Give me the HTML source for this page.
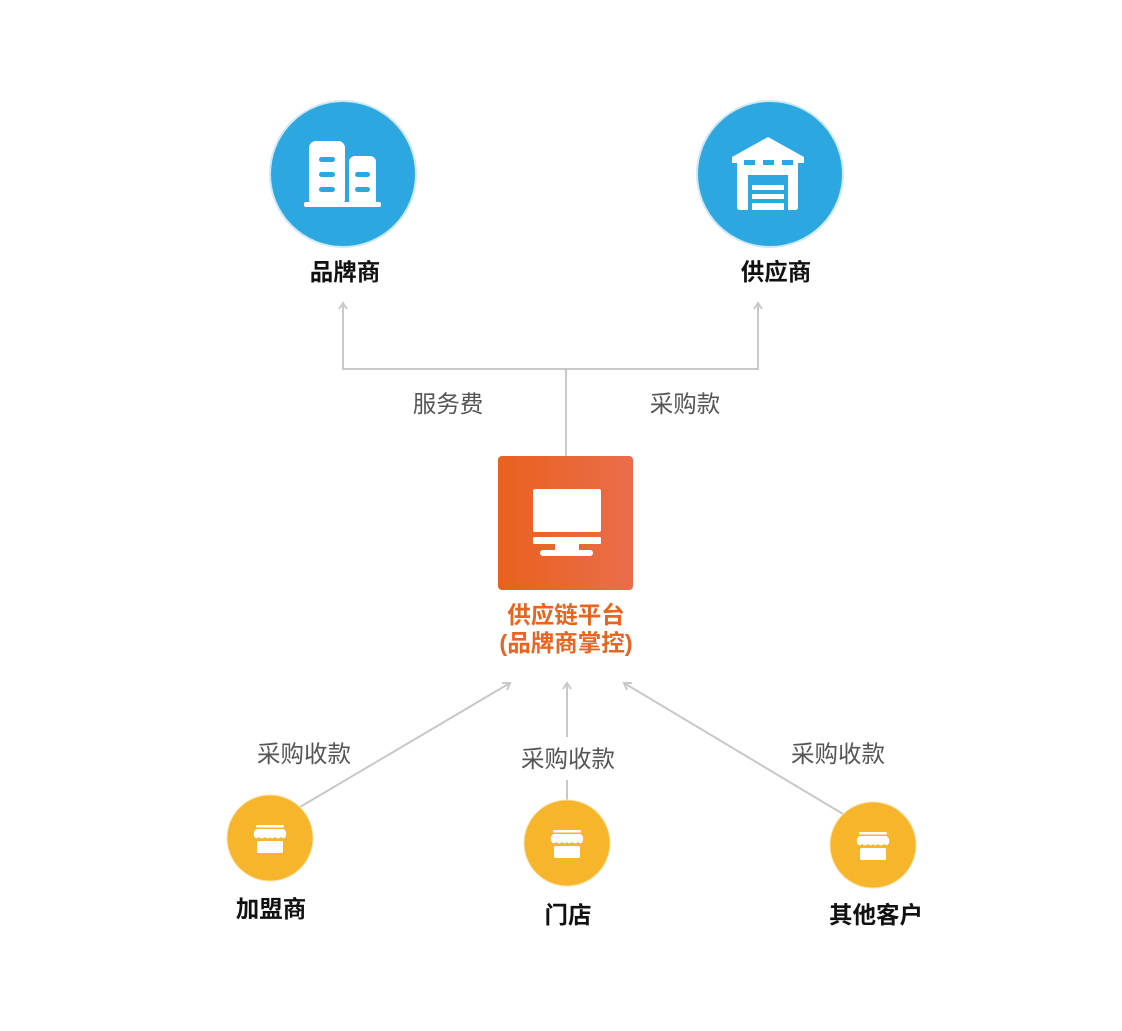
<!DOCTYPE html>
<html><head><meta charset="utf-8"><style>
body{margin:0;background:#fff}
svg text{font-family:"Liberation Sans","Noto Sans CJK SC",sans-serif}
</style></head><body>
<svg width="1122" height="1026" viewBox="0 0 1122 1026" xmlns="http://www.w3.org/2000/svg">
<defs>
<linearGradient id="og" x1="0" x2="1" y1="0" y2="0"><stop offset="0" stop-color="#e8611e"/><stop offset="1" stop-color="#ea6d4b"/></linearGradient>
<g id="shop">
<rect x="-14" y="-15" width="28" height="2.5" fill="#fff" rx="1"/>
<path d="M-16,-4 Q-17,-10 -13,-11 L13,-11 Q17,-10 16,-4 Q14,0 11,-3 Q8,0 5,-3 Q2,0 0,-3 Q-2,0 -5,-3 Q-8,0 -11,-3 Q-14,0 -16,-4Z" fill="#fff"/>
<rect x="-13" y="1" width="26" height="12" fill="#fff" rx="1.5"/>
</g>
</defs>
<g stroke="#c8c8c8" stroke-width="2" fill="none">
<polyline points="343,304 343,369 758,369 758,304"/>
<line x1="566" y1="369" x2="566" y2="456"/>
<polyline points="339,309 343,303 347,309"/>
<polyline points="754,309 758,303 762,309"/>
<line x1="300" y1="807" x2="510" y2="683"/>
<polyline points="502,683 510,683 507,690"/>
<line x1="567" y1="737" x2="567" y2="684"/>
<polyline points="563,689 567,683 571,689"/>
<line x1="567" y1="780" x2="567" y2="800"/>
<line x1="843" y1="814" x2="624" y2="683"/>
<polyline points="632,683 624,683 627,690"/>
</g>
<circle cx="343" cy="174" r="73" fill="#2da7e0" stroke="#cfe8f5" stroke-width="2"/>
<circle cx="770" cy="174" r="73" fill="#2da7e0" stroke="#cfe8f5" stroke-width="2"/>
<g fill="#fff">
<rect x="309" y="141" width="36" height="65" rx="7"/>
<rect x="349" y="156" width="27" height="50" rx="6"/>
<rect x="304" y="202" width="77" height="5" rx="2"/>
</g>
<g fill="#2da7e0">
<rect x="319" y="157" width="16" height="5" rx="2.5"/><rect x="319" y="172" width="16" height="5" rx="2.5"/><rect x="319" y="187" width="16" height="5" rx="2.5"/>
<rect x="355" y="172" width="15" height="5" rx="2.5"/><rect x="355" y="187" width="15" height="5" rx="2.5"/>
<rect x="345" y="141" width="4" height="61"/>
</g>
<path d="M732,157 L768,137 L804,157 L804,163 L798,163 L798,207 Q798,210 795,210 L740,210 Q737,210 737,207 L737,163 L732,163Z" fill="#fff"/>
<g fill="#2da7e0">
<rect x="744" y="160" width="11" height="5"/><rect x="763" y="160" width="11" height="5"/><rect x="782" y="160" width="11" height="5"/>
<rect x="748" y="175" width="40" height="35"/>
</g>
<g fill="#fff"><rect x="752" y="185" width="32" height="5"/><rect x="752" y="194" width="32" height="5"/><rect x="752" y="203" width="32" height="7"/></g>
<text x="345" y="280" font-size="23.5" font-weight="bold" text-anchor="middle" fill="#111">品牌商</text>
<text x="776" y="280" font-size="23.5" font-weight="bold" text-anchor="middle" fill="#111">供应商</text>
<text x="448" y="412" font-size="23.5" text-anchor="middle" fill="#555">服务费</text>
<text x="685" y="412" font-size="23.5" text-anchor="middle" fill="#555">采购款</text>
<rect x="498" y="456" width="135" height="134" rx="4" fill="url(#og)"/>
<rect x="533" y="489" width="68" height="43" rx="2" fill="#fff"/>
<rect x="533" y="537" width="68" height="7" rx="1" fill="#fff"/>
<rect x="555" y="543" width="24" height="9" fill="#fff"/>
<rect x="540" y="550" width="53" height="6" rx="3" fill="#fff"/>
<text x="566" y="623" font-size="23.5" font-weight="bold" text-anchor="middle" fill="#e8641f">供应链平台</text>
<text x="566" y="651" font-size="23.5" font-weight="bold" text-anchor="middle" fill="#e8641f">(品牌商掌控)</text>
<text x="304" y="762" font-size="23.5" text-anchor="middle" fill="#555">采购收款</text>
<text x="568" y="767" font-size="23.5" text-anchor="middle" fill="#555">采购收款</text>
<text x="838" y="762" font-size="23.5" text-anchor="middle" fill="#555">采购收款</text>
<circle cx="270" cy="838" r="43" fill="#f6b52b" stroke="#fbe1a6" stroke-width="1"/>
<circle cx="567" cy="843" r="43" fill="#f6b52b" stroke="#fbe1a6" stroke-width="1"/>
<circle cx="873" cy="845" r="43" fill="#f6b52b" stroke="#fbe1a6" stroke-width="1"/>
<use href="#shop" x="270" y="840"/>
<use href="#shop" x="567" y="845"/>
<use href="#shop" x="873" y="847"/>
<text x="271" y="917" font-size="23.5" font-weight="bold" text-anchor="middle" fill="#111">加盟商</text>
<text x="568" y="923" font-size="23.5" font-weight="bold" text-anchor="middle" fill="#111">门店</text>
<text x="876" y="923" font-size="23.5" font-weight="bold" text-anchor="middle" fill="#111">其他客户</text>
</svg>
</body></html>
